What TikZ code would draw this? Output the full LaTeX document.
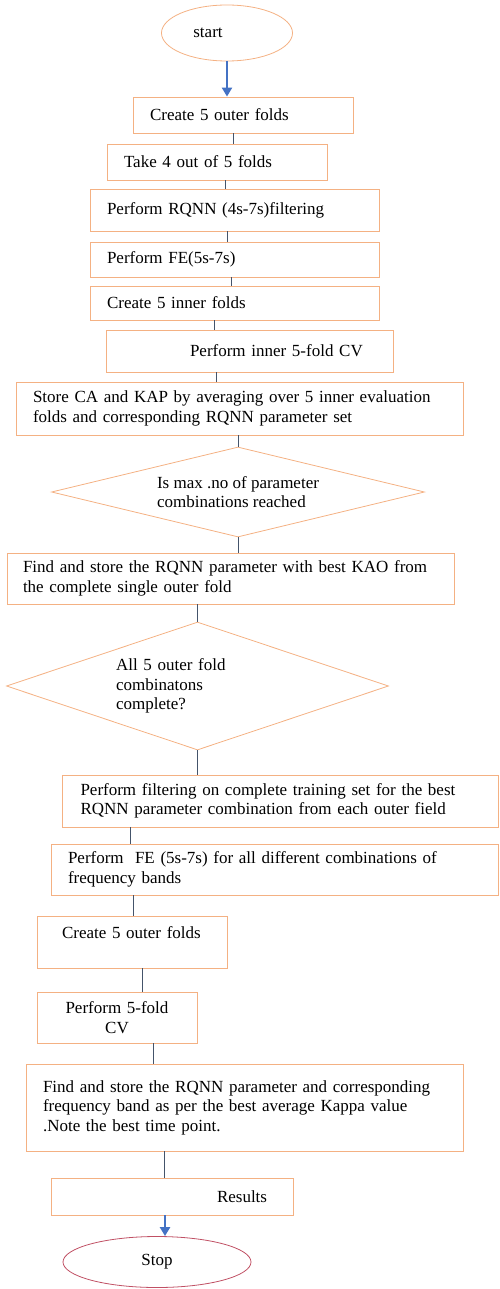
\documentclass[tikz,border=0pt]{standalone}
\usepackage{fontspec}
\setmainfont{Liberation Serif}
\usepackage{tikz}
\usetikzlibrary{arrows.meta,shapes.geometric}
\definecolor{boxorange}{RGB}{244, 177, 131}
\definecolor{arrowblue}{RGB}{68, 114, 196}
\definecolor{linkgray}{RGB}{68, 84, 106}
\definecolor{stopred}{RGB}{192, 80, 100}

\begin{document}
\begin{tikzpicture}[x = 1pt, y = -1pt, font = \fontsize{17}{19.6}\selectfont,
	box/.style = {rectangle, draw = boxorange, line width = 0.8pt, inner xsep = 17pt, inner ysep = 0pt, align = left},
	decision/.style = {diamond, draw = boxorange, line width = 0.8pt, inner sep = 0pt, shape aspect = 4},
	terminal/.style = {ellipse, line width = 0.8pt, inner sep = 0pt},
	link/.style = {draw = linkgray, line width = 0.7pt},
	flow/.style = {draw = arrowblue, line width = 2.2pt, -{Triangle[length = 9pt, width = 10pt]}}]
			\useasboundingbox (0,0) rectangle (499,1289);
			\node (s) at (227,33) [terminal, draw = boxorange, minimum width = 131pt, minimum height = 56pt] {start\hspace*{38pt}};
			\node (a) at (243,115) [box, text width = 186pt, minimum height = 36pt] {Create 5 outer folds};
			\node (b) at (217,162) [box, text width = 186pt, minimum height = 36pt] {Take 4 out of 5 folds};
			\node (c) at (234.5,210) [box, text width = 255pt, minimum height = 42pt] {Perform RQNN (4s-7s)filtering};
			\node (d) at (234.5,259.5) [box, text width = 255pt, minimum height = 35pt] {Perform FE(5s-7s)};
			\node (e) at (234.5,303) [box, text width = 255pt, minimum height = 34pt] {Create 5 inner folds};
			\node (f) at (249.5,351) [box, text width = 253pt, minimum height = 42pt] {\hspace*{67pt}Perform inner 5-fold CV};
			\node (g) at (239.5,408.5) [box, text width = 413pt, minimum height = 53pt] {Store CA and KAP by averaging over 5 inner evaluation\\folds and corresponding RQNN parameter set};
			\node (h) at (238,492) [decision, align = left, minimum width = 373pt, minimum height = 90pt] {Is max .no of parameter\\combinations reached};
			\node (i) at (230.5,578.5) [box, inner xsep = 16pt, text width = 415pt, minimum height = 51pt] {Find and store the RQNN parameter with best KAO from\\the complete single outer fold};
			\node (j) at (197.5,686) [decision, align = left, text width = 163pt, minimum width = 361pt, minimum height = 128pt] {All 5 outer fold\\combinatons\\complete?};
			\node (k) at (280.5,801) [box, inner xsep = 18pt, text width = 400pt, minimum height = 52pt] {Perform filtering on complete training set for the best\\RQNN parameter combination from each outer field};
			\node (l) at (274.5,869.5) [box, text width = 413pt, minimum height = 51pt] {Perform \ FE (5s-7s) for all different combinations of\\frequency bands};
			\node (m) at (132,942) [box, text width = 156pt, minimum height = 52pt] {\hspace*{8pt}Create 5 outer folds\\\mbox{}};
			\node (n) at (117,1017.5) [box, align = center, text width = 126pt, minimum height = 51pt] {Perform 5-fold\\CV};
			\node (o) at (244.5,1107.5) [box, text width = 403pt, minimum height = 87pt] {Find and store the RQNN parameter and corresponding\\frequency band as per the best average Kappa value\\.Note the best time point.};
			\node (p) at (172,1196.5) [box, text width = 208pt, minimum height = 37pt] {\hspace*{149pt}Results};
			\node (q) at (157,1262) [terminal, draw = stopred, minimum width = 188pt, minimum height = 51pt] {Stop};
			\draw[flow] (s.south) -- (s.south |- a.north);
			\draw[link] (a.south -| 233,0) -- (b.north -| 233,0);
			\draw[link] (b.south -| 225,0) -- (c.north -| 225,0);
			\draw[link] (c.south -| 227,0) -- (d.north -| 227,0);
			\draw[link] (d.south -| 231,0) -- (e.north -| 231,0);
			\draw[link] (e.south -| 214,0) -- (f.north -| 214,0);
			\draw[link] (f.south -| 216,0) -- (g.north -| 216,0);
			\draw[link] (g.south -| h.north) -- (h.north);
			\draw[link] (h.south) -- (h.south |- i.north);
			\draw[link] (i.south -| j.north) -- (j.north);
			\draw[link] (j.south) -- (j.south |- k.north);
			\draw[link] (k.south -| 130,0) -- (l.north -| 130,0);
			\draw[link] (l.south -| 133,0) -- (m.north -| 133,0);
			\draw[link] (m.south -| 142,0) -- (n.north -| 142,0);
			\draw[link] (n.south -| 153,0) -- (o.north -| 153,0);
			\draw[link] (o.south -| 164,0) -- (p.north -| 164,0);
			\draw[flow] (p.south -| 165,0) -- (q.north -| 165,0);
			\end{tikzpicture}
\end{document}
